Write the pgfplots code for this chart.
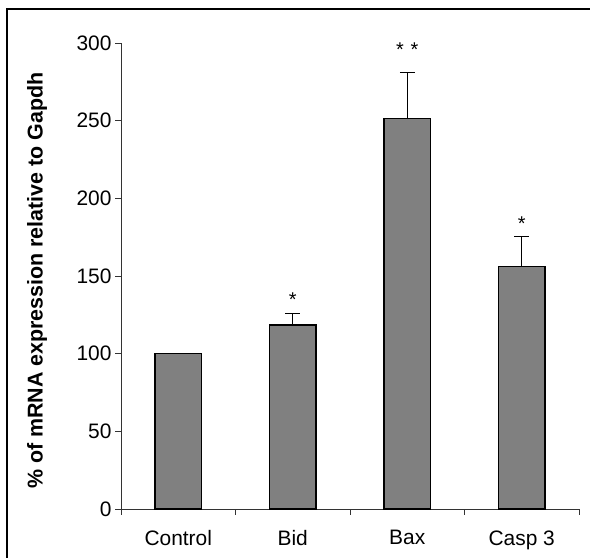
\documentclass[border=0pt]{standalone}
\usepackage{fontspec}
\setmainfont{Liberation Sans}
\usepackage{pgfplots}
\pgfplotsset{compat=1.18}
\begin{document}
\begin{tikzpicture}[x=1bp,y=1bp]
\useasboundingbox (0,0) rectangle (590,558);
\draw[line width=1.5bp,black] (7,-10) -- (7,549) -- (600,549);
\begin{axis}[
  at={(121bp,49bp)}, anchor=south west,
  scale only axis, width=458bp, height=466bp,
  xmin=-0.5, xmax=3.5, ymin=0, ymax=300,
  axis x line=bottom, axis y line=left,
  axis line style={-, line width=0.8bp, black!80},
  xtick={0,1,2,3},
  xticklabels={Control,Bid,Bax,Casp 3},
  minor xtick={-0.5,0.5,1.5,2.5,3.5},
  major x tick style={draw=none},
  minor x tick style={line width=0.8bp, black!80},
  ytick={0,50,100,150,200,250,300},
  y tick style={line width=0.8bp, black!80},
  tick align=outside,
  major tick length=6bp, minor tick length=6bp,
  /pgf/number format/assume math mode=true,
  tick label style={font=\fontsize{21}{25}\selectfont},
  xticklabel style={yshift=-12bp},
  ylabel={\% of mRNA expression relative to Gapdh},
  every axis y label/.style={at={(axis description cs:-0.183,0.49)}, rotate=90, anchor=center, font=\fontsize{21.5}{25}\selectfont\bfseries},
  clip=false,
]
\addplot[ybar, bar width=46.5bp, fill=black!50, draw=black, line width=1.5bp,
  error bars/.cd, y dir=plus, y explicit,
  error bar style={line width=1.3bp, black},
  error mark options={rotate=90, mark size=7.5bp, line width=1.3bp, black}]
  coordinates {
  (0,100) +- (0,0)
  (1,118.5) +- (0,7.5)
  (2,251.5) +- (0,29.5)
  (3,156) +- (0,19.5)
  };
\node[anchor=base, font=\fontsize{20}{24}\selectfont] at (axis cs:1,130.3) {*};
\node[anchor=base, font=\fontsize{20}{24}\selectfont] at (axis cs:2,291.2) {*\,\,*};
\node[anchor=base, font=\fontsize{20}{24}\selectfont] at (axis cs:3,179.2) {*};
\end{axis}
\end{tikzpicture}
\end{document}
